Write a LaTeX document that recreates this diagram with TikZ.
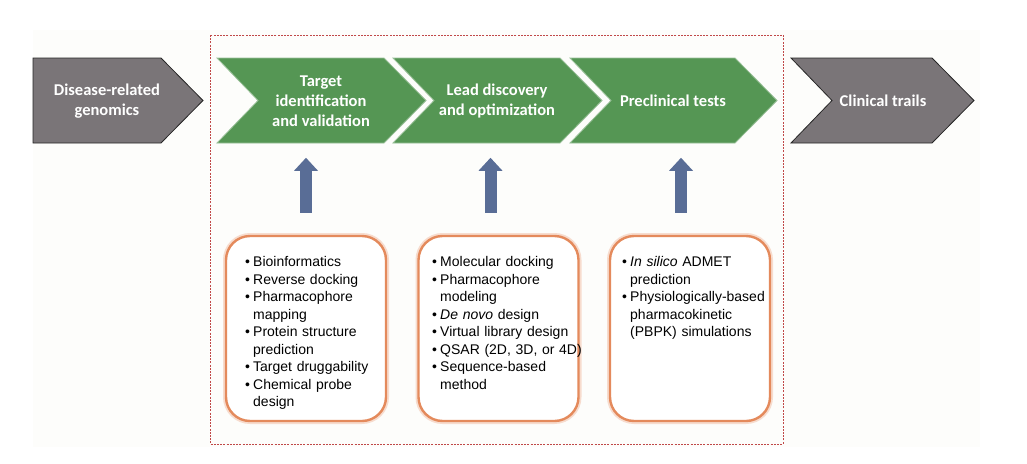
\documentclass[tikz,border=0pt]{standalone}
\usepackage{fontspec}
\setmainfont{Liberation Sans}
\newfontfamily\headfont{Carlito}
\usetikzlibrary{arrows.meta,positioning}

\definecolor{stagegreen}{RGB}{85,150,84}
\definecolor{stagegray}{RGB}{122,117,120}
\definecolor{arrowblue}{RGB}{89,109,150}
\definecolor{boxorange}{RGB}{228,138,92}
\definecolor{framered}{RGB}{192,72,72}
\definecolor{paper}{RGB}{253,253,251}

\newcommand\itm[1]{\par\leftskip=8pt\noindent\hspace*{-8pt}\makebox[8pt][l]{\textbullet}#1\par}
\newcommand\stagechev[3]{\filldraw[#1] (#2,58) -- (#3,58) -- (#3+42,100.5) -- (#3,143) -- (#2,143) -- (#2+41,100.5) -- cycle;}

\tikzset{
  stagetxt/.style={text=white, font=\headfont\bfseries\fontsize{16.5}{20}\selectfont, align=center},
  greenchev/.style={fill=stagegreen, draw=stagegreen!60!white, line width=0.8pt},
  graychev/.style={fill=stagegray, draw=black!85, line width=0.8pt},
  toolbox/.style={draw=boxorange, line width=2.4pt, fill=white, rounded corners=24pt,
    minimum width=160pt, minimum height=185pt, preaction={draw=boxorange!30, line width=6pt}},
  toollist/.style={anchor=north west, inner sep=0pt, text width=170pt, font=\fontsize{14}{17.5}\selectfont},
  uparrow/.style={draw=arrowblue, line width=12pt, -{Triangle[width=24pt,length=13pt,line width=0pt]}},
}

\begin{document}
\begin{tikzpicture}[x=1pt,y=-1pt]
  \useasboundingbox (0,0) rectangle (1027,463);
  \fill[paper] (33,30) rectangle (980,447);
  \draw[framered, line width=0.8pt, dash pattern=on 2pt off 1.2pt] (210,35) rectangle (783,444);

  \filldraw[graychev] (33,58) -- (161,58) -- (203,100.5) -- (161,143) -- (33,143) -- cycle;
  \stagechev{greenchev}{217}{384}
  \stagechev{greenchev}{393}{560}
  \stagechev{greenchev}{570}{735}
  \stagechev{graychev}{791}{932}

  \node[stagetxt] (gen) at (107,101) {Disease-related\\genomics};
  \node[stagetxt] (tgt) at (321,101) {Target\\identification\\and validation};
  \node[stagetxt] (lead) at (497,101) {Lead discovery\\and optimization};
  \node[stagetxt] (pre) at (673,101) {Preclinical tests};
  \node[stagetxt] (clin) at (883,101) {Clinical trails};

  \node[toolbox] (b1) at (306,328.5) {};
  \node[toolbox] (b2) at (498.5,328.5) {};
  \node[toolbox] (b3) at (690,328.5) {};

  \node[toollist] (l1) at (245,249) {%
    \itm{Bioinformatics}
    \itm{Reverse docking}
    \itm{Pharmacophore\newline mapping}
    \itm{Protein structure\newline prediction}
    \itm{Target druggability}
    \itm{Chemical probe\newline design}};
  \node[toollist] (l2) at (432,249) {%
    \itm{Molecular docking}
    \itm{Pharmacophore\newline modeling}
    \itm{\textit{De novo} design}
    \itm{Virtual library design}
    \itm{QSAR (2D, 3D, or 4D)}
    \itm{Sequence-based\newline method}};
  \node[toollist] (l3) at (622,249) {%
    \itm{\textit{In silico} ADMET\newline prediction}
    \itm{Physiologically-based\newline pharmacokinetic\newline (PBPK) simulations}};

  \draw[uparrow] ([yshift=22pt]b1.north) -- ([yshift=77pt]b1.north);
  \draw[uparrow] ([xshift=-8pt,yshift=22pt]b2.north) -- ([xshift=-8pt,yshift=77pt]b2.north);
  \draw[uparrow] ([xshift=-9pt,yshift=22pt]b3.north) -- ([xshift=-9pt,yshift=77pt]b3.north);
\end{tikzpicture}
\end{document}
